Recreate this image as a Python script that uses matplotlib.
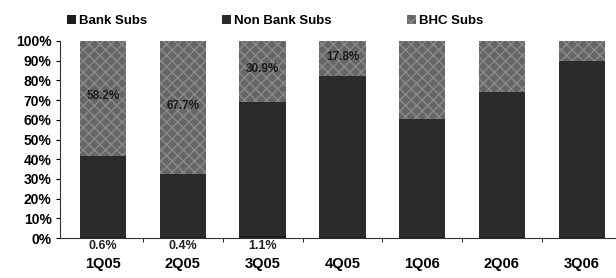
import numpy as np
import matplotlib
matplotlib.use('Agg')
import matplotlib.pyplot as plt

plt.rcParams['font.family'] = ['Liberation Sans', 'DejaVu Sans']
plt.rcParams['font.weight'] = 'bold'

quarters = ['1Q05', '2Q05', '3Q05', '4Q05', '1Q06', '2Q06', '3Q06']
bank_subs = [0.6, 0.4, 1.1, 0.7, 0.5, 0.5, 0.5]
non_bank_subs = [41.2, 31.9, 68.0, 81.5, 60.0, 73.5, 89.3]
bhc_subs = [58.2, 67.7, 30.9, 17.8, 39.5, 26.0, 10.2]

# which values get printed on the chart
bank_labels = ['0.6%', '0.4%', '1.1%', '', '', '', '']
bhc_labels = ['58.2%', '67.7%', '30.9%', '17.8%', '', '', '']

fig = plt.figure(figsize=(6.16, 2.78), dpi=100)
ax = fig.add_axes([60/616, 40/278, 556/616, 197/278])

x = np.arange(len(quarters))
w = 0.58
bank = np.array(bank_subs)
nonbank = np.array(non_bank_subs)
bhc = np.array(bhc_subs)

b1 = ax.bar(x, bank, w, color='#1e1e1e', label='Bank Subs')
b2 = ax.bar(x, nonbank, w, bottom=bank, color='#2b2b2b', label='Non Bank Subs')
b3 = ax.bar(x, bhc, w, bottom=bank + nonbank, color='#666666',
            hatch='xxx', edgecolor='#8a8a8a', linewidth=0, label='BHC Subs')

for i in range(len(quarters)):
    if bhc_labels[i]:
        ax.text(x[i], bank[i] + nonbank[i] + bhc[i] / 2 + 1, bhc_labels[i],
                ha='center', va='center', fontsize=8.5, color='#1a1a1a')
    if bank_labels[i]:
        ax.text(x[i], -4, bank_labels[i], ha='center', va='center',
                fontsize=9, color='#222222')

ax.set_xlim(-0.54, 6.43)
ax.set_ylim(0, 100)
ax.set_yticks(np.arange(0, 101, 10))
ax.set_yticklabels([f'{v}%' for v in range(0, 101, 10)], fontsize=10)
ax.set_xticks(x)
ax.set_xticklabels(quarters, fontsize=10.5)
ax.tick_params(axis='x', length=0, pad=14)
ax.set_xticks(x[:-1] + 0.5, minor=True)
ax.tick_params(axis='x', which='minor', length=3, direction='out')
ax.tick_params(axis='y', length=3, direction='out', pad=3)

for s in ['top', 'right']:
    ax.spines[s].set_visible(False)
ax.spines['left'].set_color('#333333')
ax.spines['bottom'].set_color('#333333')

fig.legend(handles=[b1, b2, b3], loc='upper left', bbox_to_anchor=(55/616, 0.99),
           ncol=3, frameon=False, fontsize=9.5, handlelength=0.7, handleheight=0.7,
           handletextpad=0.2, columnspacing=5.7)

plt.savefig('out.png', dpi=100)
